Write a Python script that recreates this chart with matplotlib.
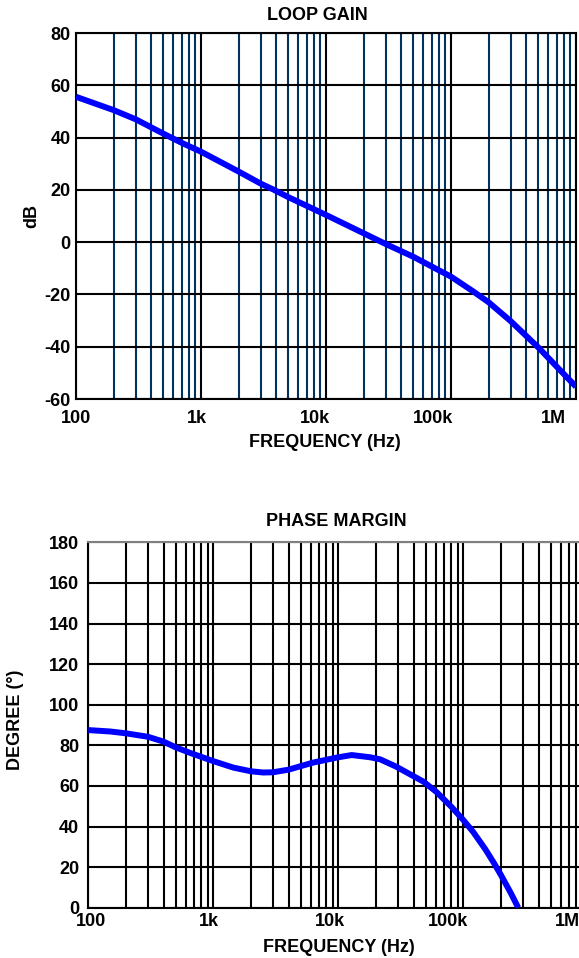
# loop gain and phase margin vs frequency

import numpy as np
import matplotlib.pyplot as plt
from matplotlib.ticker import FixedLocator, NullFormatter

plt.rcParams['font.family'] = ['Liberation Sans', 'DejaVu Sans']
plt.rcParams['font.weight'] = 'bold'
plt.rcParams['font.size'] = 13
plt.rcParams['axes.unicode_minus'] = False

# loop gain curve
gain_freq = [100, 200, 300, 500, 700, 1e3, 2e3, 3e3, 3.8e3, 5e3, 7e3, 1e4, 2e4, 3e4, 5e4, 7e4,
             1e5, 1.5e5, 2e5, 3e5, 5e5, 7e5, 1e6]
gain_db = [55.6, 50.5, 47.0, 41.5, 38.0, 34.6, 27.0, 22.4, 20.1, 17.2, 13.9, 10.4, 3.4, -0.7, -5.6, -9.3,
           -13.2, -18.8, -23.0, -30.2, -40.3, -47.6, -55.3]

# phase margin curve
phase_freq = [100, 150, 200, 300, 400, 500, 650, 1e3, 1.45e3, 2e3, 2.5e3, 3e3, 4e3, 6.3e3, 1e4, 1.28e4,
              1.8e4, 2.16e4, 2.9e4, 4.8e4, 6.1e4, 8e4, 1e5, 1.2e5, 1.5e5, 1.75e5, 2e5, 2.4e5, 2.75e5]
phase_deg = [87.5, 86.8, 85.9, 84.2, 81.8, 79.0, 76.3, 72.2, 69.0, 67.2, 66.6, 66.7, 68.0, 71.5, 74.1, 75.2,
             74.1, 73.1, 69.5, 62.1, 57.0, 49.8, 43.2, 37.3, 28.8, 22.2, 16.1, 7.2, 0.0]

freq_ticks = [100, 1e3, 1e4, 1e5, 1e6]
freq_labels = ['100', '1k', '10k', '100k', '1M']
gain_ticks = [-60, -40, -20, 0, 20, 40, 60, 80]
phase_ticks = [0, 20, 40, 60, 80, 100, 120, 140, 160, 180]

navy = '#00335F'
blue = '#0000FF'
minor_freqs = [m * 10**d for d in range(2, 6) for m in range(2, 10)]

fig = plt.figure(figsize=(5.79, 9.58), dpi=100)

# ---- top: loop gain ----
ax1 = fig.add_axes([76 / 579, 1 - 399 / 958, 500 / 579, 366 / 958])
ax1.set_xscale('log')
ax1.set_xlim(100, 1e6)
ax1.set_ylim(-60, 80)
ax1.xaxis.set_major_locator(FixedLocator(freq_ticks))
ax1.xaxis.set_minor_locator(FixedLocator(minor_freqs))
ax1.xaxis.set_major_formatter(NullFormatter())
ax1.xaxis.set_minor_formatter(NullFormatter())
ax1.set_yticks(gain_ticks)
ax1.grid(which='major', color='black', linewidth=1.5)
ax1.grid(which='minor', axis='x', color=navy, linewidth=1.5)
ax1.tick_params(which='both', length=0)
ax1.tick_params(axis='y', pad=4)
for s in ax1.spines.values():
    s.set_linewidth(1.5)
ax1.plot(gain_freq, gain_db, color=blue, linewidth=4.3, solid_capstyle='butt',
         solid_joinstyle='round', zorder=5)

# tick labels drift left a bit in the original
for f, lab, dx in zip(freq_ticks, freq_labels, [0, -4.5, -11, -18, -23]):
    ax1.annotate(lab, xy=(f, 0), xycoords=('data', 'axes fraction'),
                 xytext=(dx * 0.72, -8), textcoords='offset points',
                 ha='center', va='top')
fig.text(317 / 579, 1 - 16 / 958, 'LOOP GAIN', ha='center', va='center')
fig.text(324.5 / 579, 1 - 442.5 / 958, 'FREQUENCY (Hz)', ha='center', va='center')
fig.text(32 / 579, 1 - 216 / 958, 'dB', ha='center', va='center', rotation=90)

# ---- bottom: phase margin ----
ax2 = fig.add_axes([88.3 / 579, 1 - 907.7 / 958, 500 / 579, 365.4 / 958])
ax2.set_xscale('log')
ax2.set_xlim(100, 1e6)
ax2.set_ylim(0, 180)
ax2.xaxis.set_major_locator(FixedLocator(freq_ticks))
ax2.xaxis.set_minor_locator(FixedLocator(minor_freqs))
ax2.xaxis.set_major_formatter(NullFormatter())
ax2.xaxis.set_minor_formatter(NullFormatter())
ax2.set_yticks(phase_ticks)
ax2.grid(which='major', color='black', linewidth=1.5)
ax2.grid(which='minor', axis='x', color='black', linewidth=1.5)
ax2.tick_params(which='both', length=0)
ax2.tick_params(axis='y', pad=6.5)
for s in ax2.spines.values():
    s.set_linewidth(1.5)
ax2.spines['top'].set_color('#808080')
ax2.plot(phase_freq, phase_deg, color=blue, linewidth=4.3, solid_capstyle='butt',
         solid_joinstyle='round', zorder=5)

for f, lab, dx in zip(freq_ticks, freq_labels, [3, -4, -8, -15, -21]):
    ax2.annotate(lab, xy=(f, 0), xycoords=('data', 'axes fraction'),
                 xytext=(dx * 0.72, -4), textcoords='offset points',
                 ha='center', va='top')
fig.text(336 / 579, 1 - 522 / 958, 'PHASE MARGIN', ha='center', va='center')
fig.text(339 / 579, 1 - 948 / 958, 'FREQUENCY (Hz)', ha='center', va='center')
fig.text(16 / 579, 1 - 720 / 958, 'DEGREE (°)', ha='center', va='center', rotation=90)

plt.savefig('out.png', dpi=100)
